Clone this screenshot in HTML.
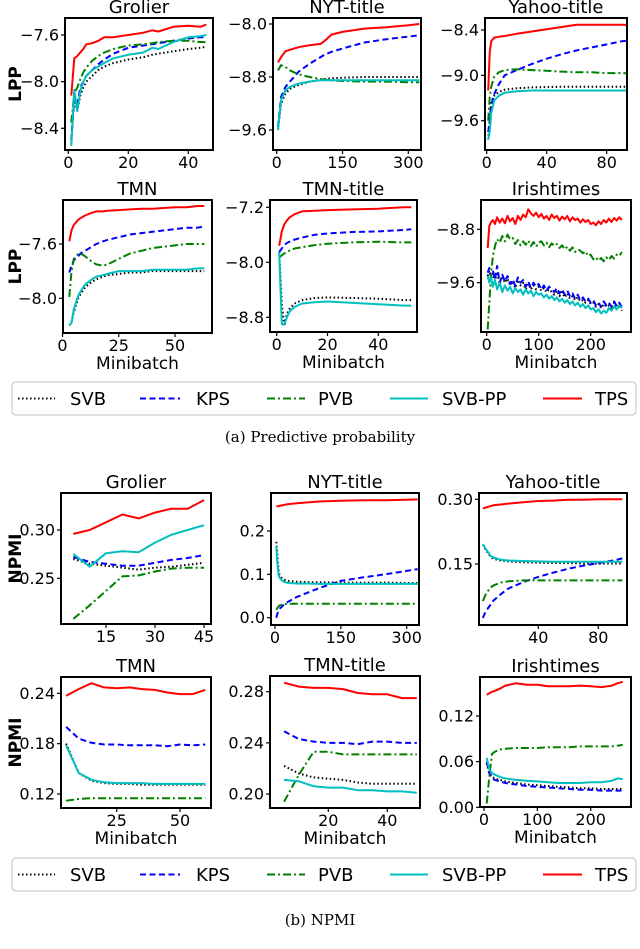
<!DOCTYPE html>
<html><head><meta charset="utf-8">
<style>
html,body{margin:0;padding:0;background:#fff;}
svg{display:block;font-family:"DejaVu Sans","Liberation Sans",sans-serif;}
.cap{font-family:"DejaVu Serif","Liberation Serif",serif;font-size:15px;}
</style></head>
<body>
<svg id="fig" width="640" height="949" viewBox="0 0 640 949" xmlns="http://www.w3.org/2000/svg"></svg>
<script>
// ===== Data: (a) LPP =====
const p1_x=[1,2,3,4,5,6,8,10,12,15,20,25,28,30,35,40,44,46];
const p1_svb=[-8.5,-8.15,-8.25,-8.12,-8.05,-8.0,-7.95,-7.9,-7.87,-7.84,-7.81,-7.79,-7.77,-7.76,-7.74,-7.72,-7.71,-7.7];
const p1_kps=[-8.5,-8.15,-8.2,-8.05,-8.0,-7.95,-7.9,-7.85,-7.81,-7.76,-7.71,-7.69,-7.68,-7.67,-7.65,-7.63,-7.62,-7.62];
const p1_pvb=[-8.35,-8.1,-8.05,-7.98,-7.92,-7.88,-7.82,-7.78,-7.75,-7.72,-7.69,-7.68,-7.67,-7.66,-7.65,-7.65,-7.66,-7.66];
const p1_svbpp=[-8.55,-8.07,-8.25,-8.08,-8.0,-7.95,-7.9,-7.87,-7.84,-7.8,-7.77,-7.75,-7.71,-7.72,-7.66,-7.62,-7.61,-7.6];
const p1_tps=[-8.12,-7.8,-7.78,-7.75,-7.72,-7.68,-7.67,-7.65,-7.62,-7.62,-7.6,-7.58,-7.56,-7.57,-7.53,-7.52,-7.53,-7.51];

const p2_x=[3,10,20,30,50,75,100,110,125,150,200,250,300,325];
const p2_svb=[-9.6,-9.2,-9.05,-8.98,-8.92,-8.87,-8.84,-8.83,-8.82,-8.81,-8.8,-8.8,-8.8,-8.8];
const p2_kps=[-9.55,-9.1,-8.95,-8.87,-8.72,-8.6,-8.5,-8.46,-8.42,-8.37,-8.28,-8.23,-8.19,-8.17];
const p2_pvb=[-8.7,-8.62,-8.65,-8.7,-8.76,-8.8,-8.83,-8.84,-8.85,-8.86,-8.87,-8.87,-8.88,-8.88];
const p2_svbpp=[-9.6,-9.15,-9.0,-8.95,-8.9,-8.87,-8.85,-8.85,-8.85,-8.85,-8.85,-8.85,-8.85,-8.85];
const p2_tps=[-8.58,-8.5,-8.41,-8.39,-8.35,-8.32,-8.3,-8.25,-8.16,-8.12,-8.07,-8.05,-8.02,-8.0];

const p3_x=[1,2,3,5,8,12,20,30,40,50,60,70,80,90,100];
const p3_svb=[-9.85,-9.6,-9.35,-9.27,-9.22,-9.19,-9.17,-9.16,-9.155,-9.15,-9.15,-9.15,-9.15,-9.15,-9.15];
const p3_kps=[-9.75,-9.6,-9.4,-9.25,-9.12,-9.0,-8.93,-8.85,-8.78,-8.72,-8.67,-8.63,-8.59,-8.55,-8.53];
const p3_pvb=[-9.6,-9.3,-9.15,-9.02,-8.96,-8.93,-8.92,-8.93,-8.94,-8.95,-8.96,-8.96,-8.97,-8.97,-8.98];
const p3_svbpp=[-9.85,-9.75,-9.5,-9.33,-9.27,-9.23,-9.21,-9.2,-9.2,-9.2,-9.2,-9.2,-9.2,-9.2,-9.2];
const p3_tps=[-9.2,-8.7,-8.55,-8.5,-8.49,-8.48,-8.45,-8.42,-8.39,-8.36,-8.33,-8.33,-8.33,-8.33,-8.34];

const p4_x=[3,4,5,7,8,10,13,15,18,20,25,30,35,40,45,50,55,60,63];
const p4_svb=[-8.2,-8.18,-8.1,-8.0,-7.97,-7.92,-7.88,-7.86,-7.84,-7.83,-7.82,-7.81,-7.81,-7.8,-7.8,-7.8,-7.8,-7.8,-7.8];
const p4_kps=[-7.81,-7.76,-7.72,-7.69,-7.67,-7.65,-7.62,-7.6,-7.58,-7.57,-7.55,-7.53,-7.52,-7.51,-7.5,-7.49,-7.48,-7.48,-7.47];
const p4_pvb=[-7.99,-7.8,-7.71,-7.67,-7.67,-7.69,-7.73,-7.75,-7.76,-7.75,-7.71,-7.67,-7.65,-7.63,-7.62,-7.61,-7.6,-7.6,-7.6];
const p4_svbpp=[-8.2,-8.18,-8.08,-7.98,-7.95,-7.9,-7.86,-7.84,-7.83,-7.82,-7.8,-7.8,-7.8,-7.79,-7.79,-7.79,-7.79,-7.78,-7.78];
const p4_tps=[-7.58,-7.5,-7.46,-7.42,-7.41,-7.39,-7.37,-7.36,-7.36,-7.355,-7.35,-7.345,-7.34,-7.34,-7.335,-7.33,-7.33,-7.32,-7.32];

const p5_x=[1,2,3,4,5,7,10,15,20,30,40,50,53];
const p5_svb=[-7.85,-8.6,-8.93,-8.75,-8.68,-8.6,-8.55,-8.52,-8.51,-8.52,-8.53,-8.55,-8.55];
const p5_kps=[-7.85,-7.8,-7.75,-7.72,-7.7,-7.67,-7.64,-7.6,-7.58,-7.56,-7.55,-7.53,-7.52];
const p5_pvb=[-7.93,-7.9,-7.87,-7.85,-7.83,-7.8,-7.78,-7.75,-7.73,-7.71,-7.7,-7.71,-7.71];
const p5_svbpp=[-7.85,-8.9,-8.9,-8.8,-8.72,-8.65,-8.6,-8.58,-8.57,-8.59,-8.61,-8.63,-8.63];
const p5_tps=[-7.76,-7.55,-7.45,-7.39,-7.35,-7.3,-7.26,-7.25,-7.24,-7.23,-7.22,-7.2,-7.2];

const p6_x=[2,5,8,12,16,20,25,30,35,40,45,50,55,60,65,70,75,80,85,90,95,100,105,110,115,120,125,130,135,140,145,150,155,160,165,170,175,180,185,190,195,200,205,210,215,220,225,230,235,240,245,250,255,260];
const p6_tps=[-9.08,-8.75,-8.7,-8.66,-8.72,-8.62,-8.7,-8.64,-8.71,-8.6,-8.68,-8.63,-8.72,-8.6,-8.66,-8.58,-8.62,-8.5,-8.56,-8.6,-8.55,-8.62,-8.57,-8.64,-8.6,-8.66,-8.58,-8.63,-8.6,-8.67,-8.61,-8.65,-8.6,-8.68,-8.62,-8.66,-8.64,-8.7,-8.65,-8.69,-8.66,-8.72,-8.7,-8.74,-8.68,-8.72,-8.66,-8.7,-8.64,-8.69,-8.63,-8.67,-8.62,-8.66];
const p6_pvb=[-10.3,-9.9,-9.5,-9.2,-9.05,-8.95,-9.0,-8.9,-8.98,-8.88,-8.95,-8.93,-9.02,-8.96,-9.04,-8.98,-9.03,-8.97,-9.05,-8.99,-9.06,-9.0,-8.98,-9.04,-9.0,-9.07,-9.01,-9.05,-9.02,-9.08,-9.04,-9.1,-9.06,-9.12,-9.07,-9.14,-9.1,-9.12,-9.16,-9.13,-9.2,-9.18,-9.25,-9.22,-9.27,-9.23,-9.28,-9.22,-9.26,-9.2,-9.24,-9.18,-9.2,-9.14];
const p6_kps=[-9.45,-9.38,-9.5,-9.42,-9.55,-9.35,-9.6,-9.48,-9.58,-9.5,-9.62,-9.55,-9.65,-9.52,-9.6,-9.56,-9.66,-9.58,-9.68,-9.6,-9.66,-9.62,-9.7,-9.64,-9.72,-9.66,-9.7,-9.74,-9.68,-9.76,-9.7,-9.78,-9.72,-9.8,-9.76,-9.84,-9.78,-9.86,-9.82,-9.88,-9.84,-9.9,-9.86,-9.94,-9.9,-9.96,-9.88,-9.94,-9.9,-9.96,-9.88,-9.95,-9.9,-9.97];
const p6_svb=[-9.5,-9.42,-9.55,-9.46,-9.58,-9.44,-9.62,-9.5,-9.6,-9.54,-9.64,-9.58,-9.68,-9.56,-9.64,-9.6,-9.7,-9.62,-9.7,-9.64,-9.7,-9.66,-9.72,-9.68,-9.74,-9.7,-9.74,-9.78,-9.72,-9.8,-9.74,-9.82,-9.76,-9.84,-9.8,-9.86,-9.82,-9.88,-9.86,-9.9,-9.86,-9.92,-9.9,-9.96,-9.92,-9.98,-9.92,-9.96,-9.94,-10.0,-9.9,-9.97,-9.93,-10.02];
const p6_svbpp=[-9.5,-9.6,-9.52,-9.66,-9.56,-9.7,-9.6,-9.74,-9.64,-9.72,-9.66,-9.76,-9.68,-9.74,-9.7,-9.78,-9.7,-9.76,-9.72,-9.8,-9.74,-9.78,-9.76,-9.82,-9.78,-9.84,-9.8,-9.86,-9.82,-9.88,-9.84,-9.9,-9.86,-9.92,-9.88,-9.94,-9.9,-9.96,-9.92,-9.98,-9.94,-10.0,-9.98,-10.04,-10.0,-10.06,-10.02,-10.05,-9.98,-10.02,-9.95,-10.0,-9.94,-9.98];

// ===== Data: (b) NPMI =====
const p7_x=[5,10,15,20,25,30,35,40,45];
const p7_svb=[0.27,0.265,0.263,0.261,0.259,0.261,0.262,0.264,0.266];
const p7_kps=[0.272,0.267,0.265,0.263,0.263,0.266,0.269,0.271,0.274];
const p7_pvb=[0.208,0.222,0.237,0.252,0.253,0.257,0.26,0.261,0.261];
const p7_svbpp=[0.275,0.262,0.276,0.278,0.277,0.287,0.295,0.3,0.305];
const p7_tps=[0.296,0.3,0.308,0.316,0.312,0.318,0.322,0.322,0.331];

const p8_x=[3,5,8,10,15,20,30,50,75,100,150,200,250,300,325];
const p8_svb=[0.175,0.15,0.11,0.1,0.092,0.088,0.085,0.083,0.082,0.082,0.081,0.081,0.081,0.08,0.08];
const p8_kps=[0.0,0.008,0.015,0.02,0.025,0.03,0.037,0.048,0.058,0.068,0.085,0.093,0.1,0.108,0.112];
const p8_pvb=[0.018,0.022,0.026,0.028,0.03,0.031,0.032,0.032,0.032,0.032,0.032,0.032,0.032,0.032,0.032];
const p8_svbpp=[0.165,0.13,0.1,0.093,0.087,0.083,0.08,0.079,0.079,0.078,0.078,0.078,0.078,0.078,0.078];
const p8_tps=[0.257,0.257,0.257,0.258,0.259,0.26,0.262,0.264,0.266,0.268,0.27,0.271,0.271,0.272,0.273];

const p9_x=[3,5,8,10,15,20,30,40,50,60,70,80,90,96];
const p9_svb=[0.195,0.183,0.168,0.162,0.158,0.156,0.154,0.153,0.152,0.152,0.151,0.151,0.151,0.151];
const p9_kps=[0.025,0.04,0.055,0.065,0.08,0.093,0.108,0.12,0.13,0.139,0.146,0.152,0.158,0.163];
const p9_pvb=[0.064,0.08,0.095,0.1,0.107,0.11,0.112,0.112,0.112,0.112,0.112,0.112,0.112,0.112];
const p9_svbpp=[0.196,0.185,0.17,0.165,0.16,0.158,0.157,0.156,0.155,0.155,0.155,0.155,0.155,0.155];
const p9_tps=[0.279,0.281,0.284,0.286,0.288,0.29,0.293,0.296,0.297,0.299,0.299,0.3,0.3,0.3];

const p10_x=[5,10,15,20,25,30,35,40,45,50,55,60];
const p10_svb=[0.18,0.145,0.136,0.133,0.132,0.132,0.131,0.131,0.131,0.131,0.131,0.131];
const p10_kps=[0.2,0.186,0.181,0.179,0.179,0.178,0.178,0.178,0.177,0.179,0.178,0.179];
const p10_pvb=[0.112,0.114,0.115,0.115,0.115,0.115,0.115,0.115,0.115,0.115,0.115,0.115];
const p10_svbpp=[0.178,0.145,0.137,0.134,0.133,0.133,0.133,0.132,0.132,0.132,0.132,0.132];
const p10_tps=[0.237,0.245,0.252,0.247,0.246,0.247,0.245,0.244,0.241,0.239,0.239,0.244];

const p11_x=[5,10,15,20,25,30,35,40,45,50];
const p11_svb=[0.222,0.216,0.213,0.212,0.211,0.209,0.208,0.208,0.208,0.208];
const p11_kps=[0.249,0.243,0.241,0.24,0.24,0.239,0.241,0.241,0.24,0.24];
const p11_pvb=[0.194,0.215,0.233,0.233,0.231,0.231,0.231,0.231,0.231,0.231];
const p11_svbpp=[0.211,0.21,0.206,0.205,0.205,0.203,0.203,0.202,0.202,0.201];
const p11_tps=[0.287,0.284,0.283,0.283,0.282,0.279,0.278,0.278,0.275,0.275];

const p12_x=[5,10,15,20,30,40,60,80,100,120,140,160,180,200,220,240,250,260];
const p12_svb=[0.058,0.045,0.04,0.038,0.036,0.034,0.032,0.03,0.029,0.028,0.027,0.026,0.025,0.025,0.024,0.024,0.024,0.024];
const p12_kps=[0.06,0.045,0.038,0.036,0.034,0.032,0.03,0.028,0.027,0.026,0.025,0.024,0.023,0.023,0.022,0.022,0.022,0.022];
const p12_pvb=[0.005,0.04,0.07,0.073,0.076,0.077,0.078,0.078,0.078,0.079,0.079,0.079,0.08,0.08,0.08,0.08,0.081,0.082];
const p12_svbpp=[0.065,0.05,0.045,0.043,0.04,0.038,0.036,0.035,0.034,0.033,0.032,0.032,0.032,0.033,0.033,0.035,0.038,0.037];
const p12_tps=[0.148,0.15,0.152,0.153,0.156,0.16,0.163,0.161,0.161,0.159,0.159,0.159,0.16,0.159,0.158,0.16,0.163,0.165];

const seriesNames=['SVB','KPS','PVB','SVB-PP','TPS'];
const xTicks={p1:[0,20,40],p2:[0,150,300],p3:[0,40,80],p4:[0,25,50],p5:[0,20,40],p6:[0,100,200],
  p7:[15,30,45],p8:[0,150,300],p9:[40,80],p10:[25,50],p11:[20,40],p12:[0,100,200]};
const yTicks={p1:[-7.6,-8.0,-8.4],p2:[-8.0,-8.8,-9.6],p3:[-8.4,-9.0,-9.6],p4:[-7.6,-8.0],p5:[-7.2,-8.0,-8.8],p6:[-8.8,-9.6],
  p7:[0.30,0.25],p8:[0.2,0.1,0.0],p9:[0.30,0.15],p10:[0.24,0.18,0.12],p11:[0.28,0.24,0.20],p12:[0.12,0.06,0.00]};
const yTickLabels={p1:['−7.6','−8.0','−8.4'],p2:['−8.0','−8.8','−9.6'],p3:['−8.4','−9.0','−9.6'],p4:['−7.6','−8.0'],p5:['−7.2','−8.0','−8.8'],p6:['−8.8','−9.6'],
  p7:['0.30','0.25'],p8:['0.2','0.1','0.0'],p9:['0.30','0.15'],p10:['0.24','0.18','0.12'],p11:['0.28','0.24','0.20'],p12:['0.12','0.06','0.00']};

const NS='http://www.w3.org/2000/svg';
const svg=document.getElementById('fig');
function mk(tag,attrs,parent){const e=document.createElementNS(NS,tag);for(const k in attrs)e.setAttribute(k,attrs[k]);(parent||svg).appendChild(e);return e;}

const styles=[
 {c:'#000000',d:'1.5,2.5'},
 {c:'#0000ff',d:'6,3.5'},
 {c:'#008000',d:'8,3,2,3'},
 {c:'#00bfbf',d:''},
 {c:'#ff0000',d:''}];

const plots=[
 {id:'p1',title:'Grolier',f:[65,18,213,150],xa:[0,68.3,40,188.3],ya:[-7.6,35,-8.4,128.3],yl:'LPP',xl:false,x:p1_x,s:[p1_svb,p1_kps,p1_pvb,p1_svbpp,p1_tps]},
 {id:'p2',title:'NYT-title',f:[273,18,421,150],xa:[0,276.7,300,408.3],ya:[-8.0,24,-9.6,130],x:p2_x,s:[p2_svb,p2_kps,p2_pvb,p2_svbpp,p2_tps]},
 {id:'p3',title:'Yahoo-title',f:[485,18,627,150],xa:[0,486.7,80,606.7],ya:[-8.4,30,-9.6,120.7],x:p3_x,s:[p3_svb,p3_kps,p3_pvb,p3_svbpp,p3_tps]},
 {id:'p4',title:'TMN',f:[63,200,212,333],xa:[0,62.5,50,175],ya:[-7.6,244,-8.0,298.3],yl:'LPP',xl:true,x:p4_x,s:[p4_svb,p4_kps,p4_pvb,p4_svbpp,p4_tps]},
 {id:'p5',title:'TMN-title',f:[270,200,417,332],xa:[0,276.7,40,378.3],ya:[-7.2,207.3,-8.8,317.3],xl:true,x:p5_x,s:[p5_svb,p5_kps,p5_pvb,p5_svbpp,p5_tps]},
 {id:'p6',title:'Irishtimes',f:[481,200,631,332],xa:[0,486.7,200,590.7],ya:[-8.8,229.3,-9.6,282.7],xl:true,x:p6_x,s:[p6_svb,p6_kps,p6_pvb,p6_svbpp,p6_tps]},
 {id:'p7',title:'Grolier',f:[61,493,211,624],xa:[15,106,45,204],ya:[0.30,530,0.25,578.3],yl:'NPMI',x:p7_x,s:[p7_svb,p7_kps,p7_pvb,p7_svbpp,p7_tps]},
 {id:'p8',title:'NYT-title',f:[271,493,419,625],xa:[0,275,300,406.7],ya:[0.2,531,0.0,617.7],x:p8_x,s:[p8_svb,p8_kps,p8_pvb,p8_svbpp,p8_tps]},
 {id:'p9',title:'Yahoo-title',f:[479,493,627,625],xa:[40,538.3,80,598.3],ya:[0.30,499.3,0.15,564],x:p9_x,s:[p9_svb,p9_kps,p9_pvb,p9_svbpp,p9_tps]},
 {id:'p10',title:'TMN',f:[61,677,211,808],xa:[25,116.7,50,180],ya:[0.24,693.3,0.12,794],yl:'NPMI',xl:true,x:p10_x,s:[p10_svb,p10_kps,p10_pvb,p10_svbpp,p10_tps]},
 {id:'p11',title:'TMN-title',f:[270,676,420,808],xa:[20,328.3,40,387.3],ya:[0.28,691.7,0.20,794],xl:true,x:p11_x,s:[p11_svb,p11_kps,p11_pvb,p11_svbpp,p11_tps]},
 {id:'p12',title:'Irishtimes',f:[480,677,631,807],xa:[0,484,200,590.7],ya:[0.12,716,0.00,807.3],xl:true,x:p12_x,s:[p12_svb,p12_kps,p12_pvb,p12_svbpp,p12_tps]}
];

plots.forEach(function(p){
  const [L,T,R,B]=p.f;
  const sx=v=>p.xa[1]+(v-p.xa[0])*(p.xa[3]-p.xa[1])/(p.xa[2]-p.xa[0]);
  const sy=v=>p.ya[1]+(v-p.ya[0])*(p.ya[3]-p.ya[1])/(p.ya[2]-p.ya[0]);
  const g=mk('g',{});
  
  
  const cp=mk('clipPath',{id:'clip'+p.id},g);
  mk('rect',{x:L,y:T,width:R-L,height:B-T},cp);
  const t=mk('text',{x:(L+R)/2,y:T-5,'text-anchor':'middle','font-size':'18'},g);
  t.textContent=p.title;
  
  
  const lg=mk('g',{'clip-path':'url(#clip'+p.id+')'},g);
  p.s.forEach(function(arr,i){
    const pts=arr.map((v,k)=>sx(p.x[k]).toFixed(1)+','+sy(v).toFixed(1)).join(' ');
    const pl=mk('polyline',{points:pts,fill:'none',stroke:styles[i].c,'stroke-width':'2','stroke-linejoin':'round'},lg);
    if(styles[i].d)pl.setAttribute('stroke-dasharray',styles[i].d);
    
    
  });
  const fr=mk('rect',{x:L,y:T,width:R-L,height:B-T,fill:'none',stroke:'#000','stroke-width':'2'},g);
  
  
  xTicks[p.id].forEach(function(v){
    const x=sx(v);
    mk('line',{x1:x,x2:x,y1:B,y2:B+4,stroke:'#000','stroke-width':'1.2'},g);
    const tt=mk('text',{x:x,y:B+18,'text-anchor':'middle','font-size':'16'},g);
    tt.textContent=String(v);
    
    
  });
  yTicks[p.id].forEach(function(v,k){
    const y=sy(v);
    mk('line',{x1:L-4,x2:L,y1:y,y2:y,stroke:'#000','stroke-width':'1.2'},g);
    const tt=mk('text',{x:L-6,y:y+5.5,'text-anchor':'end','font-size':'16'},g);
    tt.textContent=yTickLabels[p.id][k];
    
    
  });
  if(p.yl){
    const yc=(T+B)/2;
    const yt=mk('text',{x:0,y:0,transform:'translate(21,'+yc+') rotate(-90)','text-anchor':'middle','font-size':'17','font-weight':'bold'},g);
    yt.textContent=p.yl;
    
    
  }
  if(p.xl){
    const xt=mk('text',{x:(L+R)/2,y:B+36,'text-anchor':'middle','font-size':'17'},g);
    xt.textContent='Minibatch';
    
    
  }
});

const legendPos=[{y:382,name:'legend-lpp'},{y:858,name:'legend-npmi'}];
const entryLine=[[18,55],[140,180],[267,305],[390,428],[543,582]];
const entryText=[70,196,318,442,595];
legendPos.forEach(function(lp){
  const g=mk('g',{});
  
  
  mk('rect',{x:12,y:lp.y,width:624,height:33,rx:4,fill:'#fff',stroke:'#ccc','stroke-width':'1.2'},g);
  seriesNames.forEach(function(n,i){
    const e=mk('g',{},g);
    
    
    const cy=lp.y+16.5;
    const l=mk('line',{x1:entryLine[i][0],x2:entryLine[i][1],y1:cy,y2:cy,stroke:styles[i].c,'stroke-width':'2'},e);
    if(styles[i].d)l.setAttribute('stroke-dasharray',styles[i].d);
    const t=mk('text',{x:entryText[i],y:cy+6.5,'font-size':'18'},e);
    t.textContent=n;
  });
});

[['(a) Predictive probability',442,'caption-a'],['(b) NPMI',925,'caption-b']].forEach(function(c){
  const t=mk('text',{x:320,y:c[1],'text-anchor':'middle','class':'cap'});
  t.textContent=c[0];
  
  
});
</script>
</body></html>
